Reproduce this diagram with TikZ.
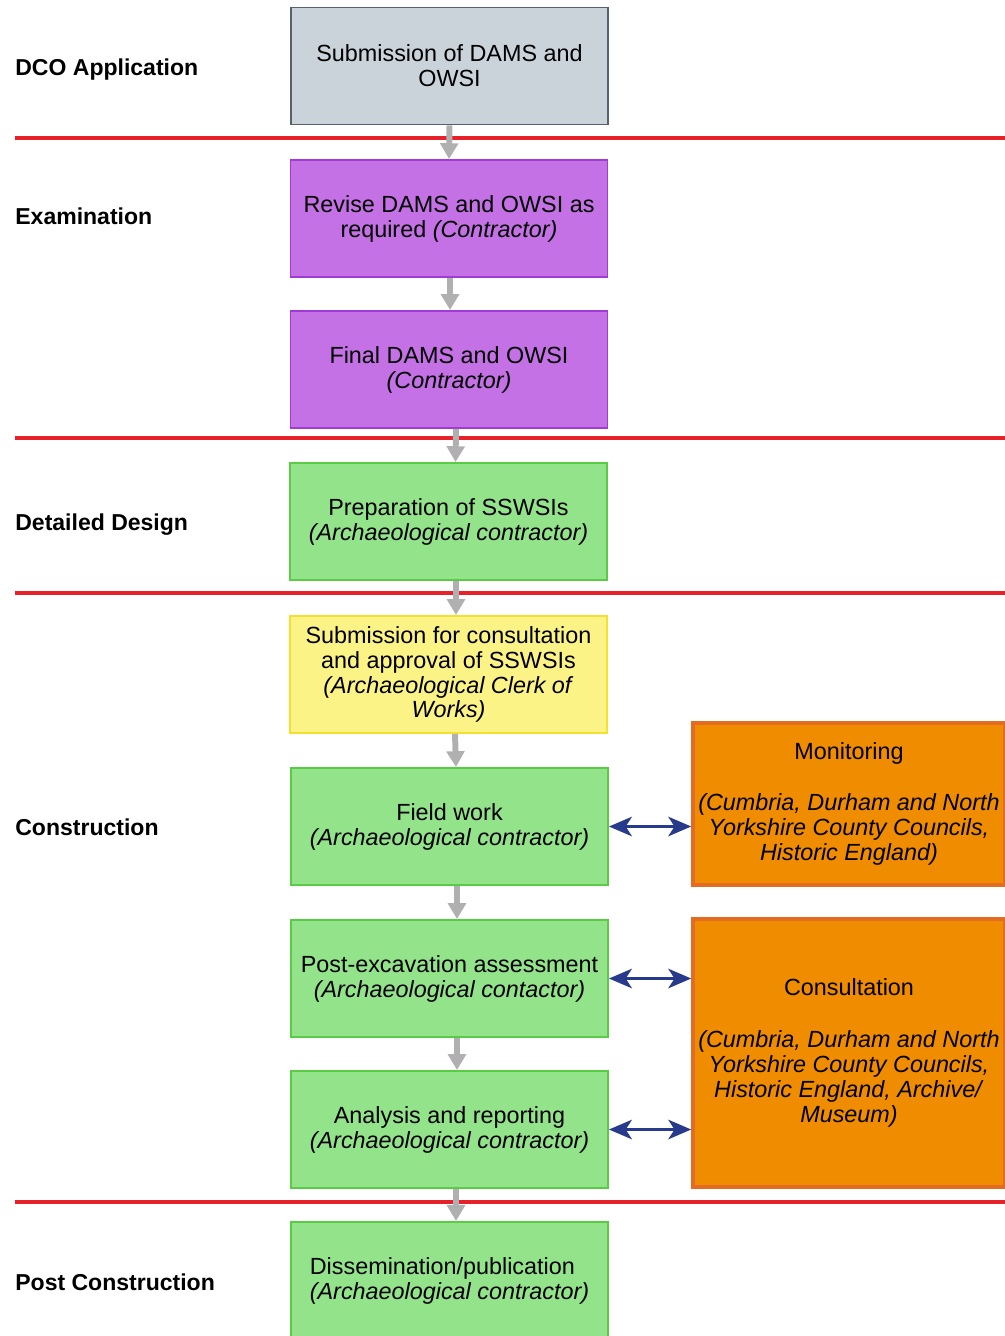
\documentclass[tikz,border=0pt]{standalone}
\usepackage{fontspec}
\setmainfont{Liberation Sans}
\usepackage{xcolor}
\usepackage{tikz}
\usetikzlibrary{positioning,calc,arrows.meta}

\definecolor{subgrey}{HTML}{CBD3DA}
\definecolor{subline}{HTML}{56626E}
\definecolor{exampurple}{HTML}{C571E6}
\definecolor{examline}{HTML}{A23AD6}
\definecolor{workgreen}{HTML}{92E38A}
\definecolor{workline}{HTML}{5ACB45}
\definecolor{consyellow}{HTML}{FCF387}
\definecolor{consline}{HTML}{F5E030}
\definecolor{authorange}{HTML}{F08C00}
\definecolor{authline}{HTML}{E36B22}
\definecolor{phasered}{HTML}{E8202A}
\definecolor{flowgrey}{HTML}{B0B0B0}
\definecolor{linkblue}{HTML}{283A8C}

\tikzset{
    boxtext/.style={font=\fontsize{13.3}{14.2}\selectfont},
    stage/.style={draw, line width=1.1pt, minimum width=6.34cm, minimum height=2.34cm,
        align=center, inner sep=2pt, boxtext},
    greystage/.style={stage, fill=subgrey, draw=subline},
    purplestage/.style={stage, fill=exampurple, draw=examline},
    greenstage/.style={stage, fill=workgreen, draw=workline},
    yellowstage/.style={stage, fill=consyellow, draw=consline},
    authority/.style={stage, fill=authorange, draw=authline, line width=2pt,
        minimum width=6.24cm},
    phase/.style={anchor=west, inner xsep=0pt, font=\fontsize{13.1}{14.4}\selectfont\bfseries},
    divider/.style={draw=phasered, line width=2.2pt},
    flow/.style={draw=flowgrey, line width=3.4pt, -{Triangle[width=10pt,length=9pt]}},
    link/.style={draw=linkblue, line width=2pt,
        {Stealth[length=13pt,width=11pt,inset=3.5pt]}-{Stealth[length=13pt,width=11pt,inset=3.5pt]}}
}

\begin{document}
\begin{tikzpicture}
    \useasboundingbox (0,0) rectangle (20.1,-26.72);

    % Phase labels
    \foreach \y/\n/\t in {-1.40/dco/DCO Application, -4.32/exam/Examination,
                          -10.50/design/Detailed Design, -16.54/constr/Construction,
                          -25.64/post/Post Construction} {
        \node[phase] (\n) at (0.3,\y) {\t};
    }

    % Phase dividers
    \foreach \y in {-2.76, -8.76, -11.86, -24.04} {
        \draw[divider] (0.3,\y) -- (20.1,\y);
    }

    % Stages
    \node[greystage]   (sub)    at (8.99,-1.32)  {Submission of DAMS and\\OWSI};
    \node[purplestage] (revise) at (8.98,-4.37)  {Revise DAMS and OWSI as\\required \textit{(Contractor)}};
    \node[purplestage] (final)  at (8.98,-7.39)  {Final DAMS and OWSI\\\textit{(Contractor)}};
    \node[greenstage]  (prep)   at (8.97,-10.43) {Preparation of SSWSIs\\\textit{(Archaeological contractor)}};
    \node[yellowstage] (appr)   at (8.97,-13.49) {Submission for consultation\\and approval of SSWSIs\\\textit{(Archaeological Clerk of}\\\textit{Works)}};
    \node[greenstage]  (field)  at (8.99,-16.53) {Field work\\\textit{(Archaeological contractor)}};
    \node[greenstage]  (postex) at (8.99,-19.57) {Post-excavation assessment\\\textit{(Archaeological contactor)}};
    \node[greenstage]  (report) at (8.99,-22.59) {Analysis and reporting\\\textit{(Archaeological contractor)}};
    \node[greenstage, align=left] (dissem) at (8.99,-25.61) {Dissemination/publication\\\textit{(Archaeological contractor)}};

    % Authorities
    \node[authority, minimum height=3.24cm] (monit) at (16.98,-16.08)
        {Monitoring\\[15pt]\textit{(Cumbria, Durham and North}\\\textit{Yorkshire County Councils,}\\\textit{Historic England)}};
    \node[authority, minimum height=5.36cm] (consult) at (16.98,-21.06)
        {Consultation\\[15pt]\textit{(Cumbria, Durham and North}\\\textit{Yorkshire County Councils,}\\\textit{Historic England, Archive/}\\\textit{Museum)}};

    % Flow
    \foreach \a/\b/\dx in {sub/revise/0, revise/final/0.02, final/prep/0.14, prep/appr/0.15,
                           appr/field/0.13, field/postex/0.15, postex/report/0.15, report/dissem/0.13} {
        \draw[flow] ($(\a.south)+(\dx,0)$) -- ($(\b.north)+(\dx,0)$);
    }

    % Links to authorities
    \draw[link] (field.east) -- (field.east -| monit.west);
    \draw[link] (postex.east) -- (postex.east -| consult.west);
    \draw[link] (report.east) -- (report.east -| consult.west);
\end{tikzpicture}
\end{document}
